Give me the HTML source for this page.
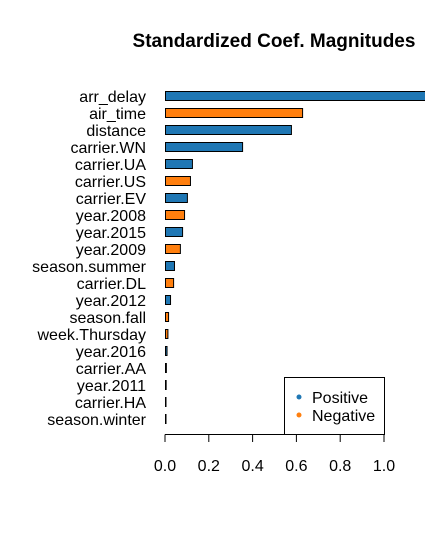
<!DOCTYPE html>
<html><head><meta charset="utf-8"><style>
body{margin:0;background:#fff}
svg{display:block;font-family:"Liberation Sans",sans-serif}
</style></head><body>
<svg id="chart" width="425" height="533">
<text x="274" y="47" text-anchor="middle" font-size="19" font-weight="bold">Standardized Coef. Magnitudes</text>
<g id="bars"></g>
<g id="axis"></g>
<g>
<rect x="284.5" y="377.5" width="100" height="57" fill="#fff" stroke="#000"/>
<circle cx="299" cy="397" r="2.5" fill="#1f77b4"/>
<text x="312" y="403" font-size="16">Positive</text>
<circle cx="299" cy="415" r="2.5" fill="#ff7f0e"/>
<text x="312" y="421" font-size="16">Negative</text>
</g>
</svg>
<script>
const categories=["arr_delay","air_time","distance","carrier.WN","carrier.UA","carrier.US","carrier.EV","year.2008","year.2015","year.2009","season.summer","carrier.DL","year.2012","season.fall","week.Thursday","year.2016","carrier.AA","year.2011","carrier.HA","season.winter"];
const values=[1.25,0.626,0.575,0.352,0.123,0.114,0.10,0.087,0.078,0.068,0.041,0.037,0.023,0.014,0.011,0.007,0.004,0.003,0.002,0.001];
const signs=["pos","neg","pos","pos","pos","neg","pos","neg","pos","neg","pos","neg","pos","neg","neg","pos","pos","pos","pos","pos"];
const ticks=[0,0.2,0.4,0.6,0.8,1.0];
const tickLabels=["0.0","0.2","0.4","0.6","0.8","1.0"];
const NS="http://www.w3.org/2000/svg";
const x=v=>165+v*219;
const y=i=>96+i*17;
const bars=document.getElementById('bars');
categories.forEach((c,i)=>{
  const r=document.createElementNS(NS,'rect');
  r.setAttribute('x',x(0)+0.5);r.setAttribute('y',y(i)-4.5);
  r.setAttribute('width',Math.max(0.5,x(values[i])-x(0)));r.setAttribute('height',9);
  r.setAttribute('fill',signs[i]==='neg'?'#ff7f0e':'#1f77b4');
  r.setAttribute('stroke','#000');r.setAttribute('stroke-width','1');
  
  
  bars.appendChild(r);
  const t=document.createElementNS(NS,'text');
  t.setAttribute('x',146);t.setAttribute('y',y(i)+6);t.setAttribute('text-anchor','end');t.setAttribute('font-size','16');
  t.textContent=c;
  
  
  bars.appendChild(t);
});
const ax=document.getElementById('axis');
const l=document.createElementNS(NS,'line');
l.setAttribute('x1',x(0));l.setAttribute('x2',x(1));l.setAttribute('y1',434.5);l.setAttribute('y2',434.5);l.setAttribute('stroke','#000');


ax.appendChild(l);
ticks.forEach((v,i)=>{
  const tk=document.createElementNS(NS,'line');
  tk.setAttribute('x1',x(v));tk.setAttribute('x2',x(v));tk.setAttribute('y1',434.5);tk.setAttribute('y2',442);tk.setAttribute('stroke','#000');
  
  
  ax.appendChild(tk);
  const t=document.createElementNS(NS,'text');
  t.setAttribute('x',x(v));t.setAttribute('y',471);t.setAttribute('text-anchor','middle');t.setAttribute('font-size','16');
  t.textContent=tickLabels[i];
  
  
  ax.appendChild(t);
});
</script>
</body></html>
